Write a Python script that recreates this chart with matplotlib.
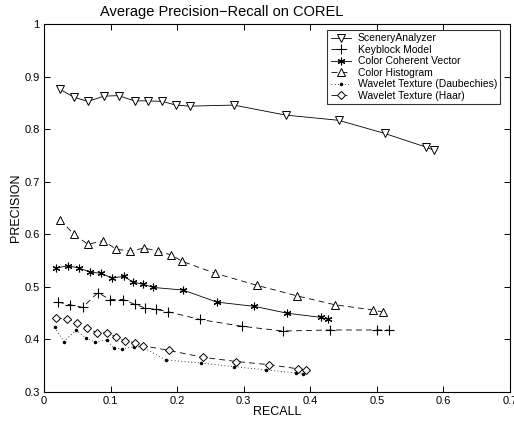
import matplotlib
matplotlib.use("Agg")
import matplotlib.pyplot as plt

plt.rcParams['font.family'] = ['Liberation Sans', 'DejaVu Sans']

# SceneryAnalyzer
sa_recall = [0.024, 0.045, 0.066, 0.090, 0.112, 0.136, 0.156, 0.178, 0.198, 0.219,
             0.285, 0.363, 0.443, 0.512, 0.574, 0.586]
sa_prec = [0.876, 0.861, 0.853, 0.863, 0.864, 0.854, 0.854, 0.853, 0.846, 0.844,
           0.846, 0.827, 0.817, 0.792, 0.766, 0.760]

# Keyblock Model
kb_recall = [0.021, 0.039, 0.058, 0.081, 0.099, 0.119, 0.136, 0.152, 0.169, 0.186,
             0.234, 0.298, 0.359, 0.429, 0.501, 0.518]
kb_prec = [0.471, 0.466, 0.461, 0.489, 0.476, 0.476, 0.467, 0.460, 0.457, 0.453,
           0.438, 0.425, 0.416, 0.418, 0.418, 0.418]

# Color Coherent Vector
ccv_recall = [0.018, 0.036, 0.053, 0.069, 0.086, 0.102, 0.120, 0.134, 0.149, 0.164,
              0.209, 0.260, 0.316, 0.365, 0.416, 0.427]
ccv_prec = [0.536, 0.540, 0.536, 0.528, 0.526, 0.517, 0.520, 0.509, 0.505, 0.499,
            0.494, 0.471, 0.463, 0.450, 0.442, 0.438]

# Color Histogram
ch_recall = [0.024, 0.045, 0.066, 0.089, 0.108, 0.129, 0.151, 0.171, 0.191, 0.207,
             0.257, 0.320, 0.380, 0.437, 0.495, 0.509]
ch_prec = [0.628, 0.600, 0.581, 0.588, 0.572, 0.568, 0.574, 0.568, 0.561, 0.549,
           0.526, 0.503, 0.483, 0.466, 0.456, 0.452]

# Wavelet Texture (Daubechies)
wd_recall = [0.016, 0.030, 0.048, 0.063, 0.077, 0.094, 0.105, 0.117, 0.135, 0.147,
             0.183, 0.236, 0.286, 0.334, 0.379, 0.389]
wd_prec = [0.423, 0.396, 0.418, 0.403, 0.395, 0.399, 0.384, 0.382, 0.386, 0.386,
           0.361, 0.355, 0.348, 0.342, 0.336, 0.334]

# Wavelet Texture (Haar)
wh_recall = [0.018, 0.034, 0.050, 0.065, 0.079, 0.094, 0.108, 0.121, 0.137, 0.149,
             0.188, 0.239, 0.289, 0.338, 0.382, 0.393]
wh_prec = [0.441, 0.439, 0.432, 0.422, 0.413, 0.412, 0.405, 0.397, 0.394, 0.388,
           0.379, 0.366, 0.358, 0.352, 0.344, 0.342]

fig = plt.figure(figsize=(5.14, 4.24), dpi=100)
ax = fig.add_axes([0.0856, 0.0755, 0.9064, 0.8675])

lw = 0.6
ax.plot(sa_recall, sa_prec, color='black', lw=lw, ls='-', marker='v', ms=5.5,
        mfc='white', mec='black', mew=0.7, label='SceneryAnalyzer')
ax.plot(kb_recall, kb_prec, color='black', lw=lw, ls=(0, (7, 5)), marker='+', ms=7,
        mew=0.8, label='Keyblock Model')
ax.plot(ccv_recall, ccv_prec, color='black', lw=lw, ls='-', marker=(6, 2, 0), ms=5.5,
        mew=0.8, label='Color Coherent Vector')
ax.plot(ch_recall, ch_prec, color='black', lw=lw, ls=(0, (7, 5)), marker='^', ms=5.5,
        mfc='white', mec='black', mew=0.7, label='Color Histogram')
ax.plot(wd_recall, wd_prec, color='black', lw=lw, ls=(0, (1, 3)), marker='.', ms=3,
        label='Wavelet Texture (Daubechies)')
ax.plot(wh_recall, wh_prec, color='black', lw=lw, ls=(0, (7, 5)), marker='D', ms=4.5,
        mfc='white', mec='black', mew=0.7, label='Wavelet Texture (Haar)')

ax.set_xlim(0, 0.7)
ax.set_ylim(0.3, 1.0)
ax.set_xticks([0, 0.1, 0.2, 0.3, 0.4, 0.5, 0.6, 0.7])
ax.set_xticklabels(['0', '0.1', '0.2', '0.3', '0.4', '0.5', '0.6', '0.7'])
ax.set_yticks([0.3, 0.4, 0.5, 0.6, 0.7, 0.8, 0.9, 1.0])
ax.set_yticklabels(['0.3', '0.4', '0.5', '0.6', '0.7', '0.8', '0.9', '1'])
ax.tick_params(direction='in', top=True, right=True, labelsize=8, length=4, width=0.7, pad=3)
for s in ax.spines.values():
    s.set_linewidth(0.8)

ax.set_xlabel('RECALL', fontsize=9, labelpad=0)
ax.set_ylabel('PRECISION', fontsize=9, labelpad=2)
ax.set_title('Average Precision\u2212Recall on COREL', fontsize=10.5, pad=6, x=0.382)

leg = ax.legend(loc='upper right', bbox_to_anchor=(0.979, 0.984), fontsize=7.5,
                frameon=True, fancybox=False, edgecolor='black', borderpad=0.3,
                labelspacing=0.15, handlelength=2.0, handletextpad=0.6, borderaxespad=0)
leg.get_frame().set_linewidth(0.8)

fig.savefig('out.png', dpi=100)
